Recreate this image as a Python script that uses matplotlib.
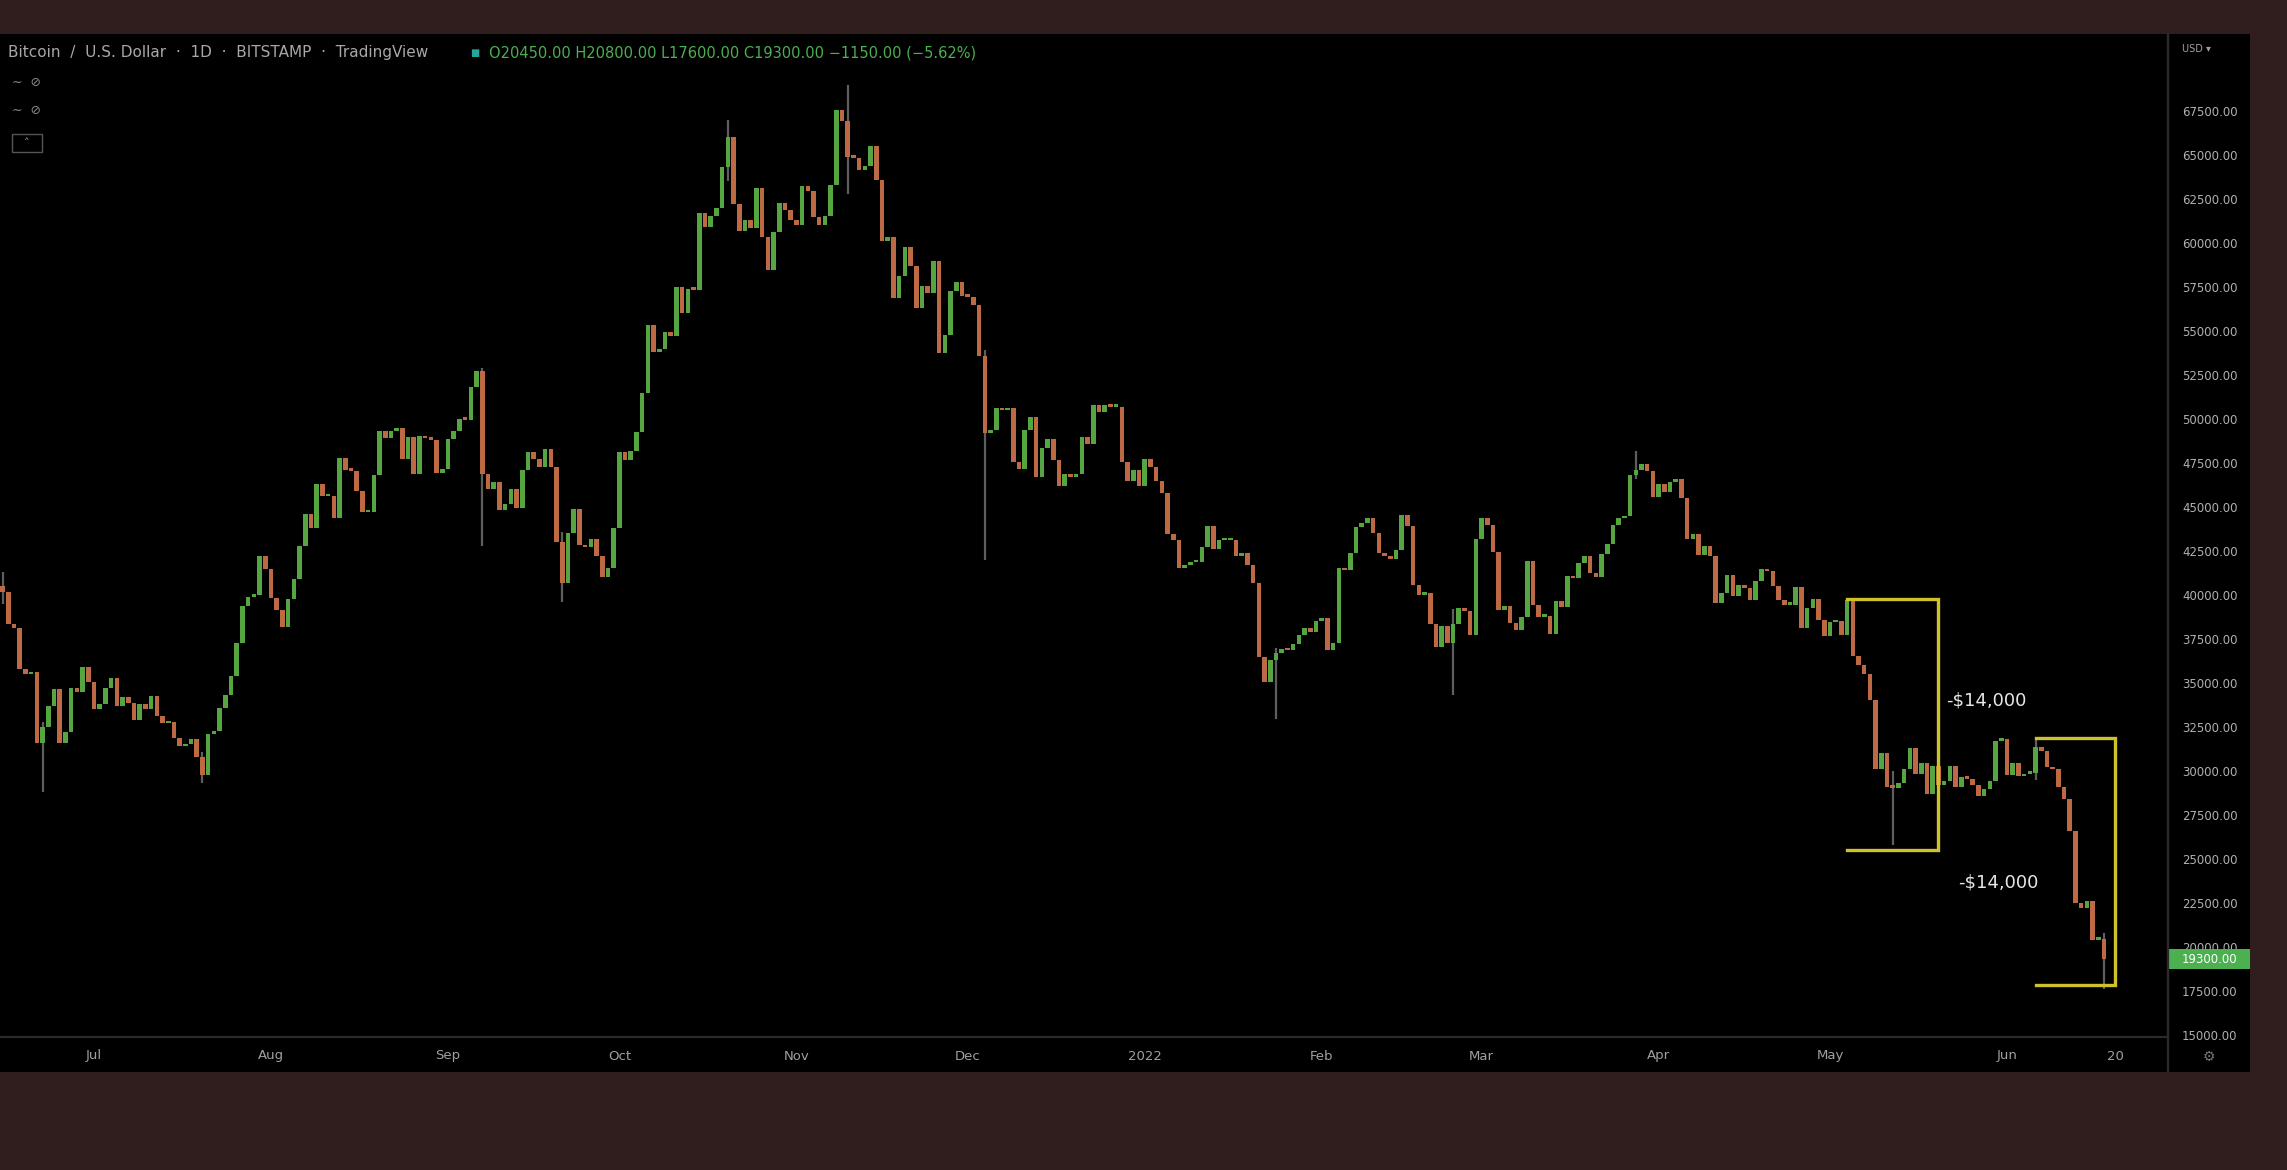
import pandas as pd
import numpy as np
import matplotlib
matplotlib.use('Agg')
import matplotlib.pyplot as plt
import matplotlib.dates as mdates
from matplotlib.patches import Rectangle
from matplotlib.lines import Line2D
import matplotlib.transforms as mtransforms

# daily closes, BTC/USD (Bitstamp)
jun21 = [40500, 40150, 38350, 38100, 35800, 35500, 35600, 31600, 32500, 33700, 34650, 31600, 32200, 34700, 34500, 35900, 35050]
jul21 = [33500, 33800, 34700, 35300, 33700, 34200, 33850, 32900, 33800, 33500,
         34250, 33100, 32700, 32800, 31850, 31400, 31550, 31800, 30800, 29800,
         32100, 32300, 33600, 34300, 35400, 37300, 39400, 39900, 40000, 42200, 41500]
aug21 = [39850, 39150, 38200, 39750, 40900, 42800, 44600, 43800, 46300, 45600,
         45600, 44400, 47800, 47100, 47050, 45900, 44700, 44700, 46800, 49300,
         48900, 49300, 49500, 47700, 48950, 46850, 49050, 48900, 48800, 46950, 47150]
sep21 = [48850, 49300, 50000, 49950, 51800, 52700, 46850, 46050, 46400, 44850,
         45150, 46050, 44950, 47100, 48150, 47750, 47300, 48300, 47250, 43000,
         40700, 43550, 44900, 42850, 42700, 43200, 42200, 41050, 41550, 43800]
oct21 = [48150, 47650, 48200, 49250, 51500, 55350, 53800, 53950, 54950, 54700,
         57500, 56000, 57400, 57350, 61700, 60900, 61550, 62000, 64300, 66000,
         62200, 60700, 61300, 60850, 63100, 60350, 58450, 60600, 62250, 61900, 61300]
nov21 = [61000, 63250, 62950, 61450, 61000, 61550, 63300, 67550, 66950, 64900,
         64850, 64150, 64400, 65500, 63600, 60100, 60350, 56900, 58100, 59750,
         58700, 56300, 57550, 57150, 58950, 53750, 54750, 57300, 57800, 57000]
dec21 = [56950, 56500, 53600, 49200, 49400, 50600, 50500, 50600, 47550, 47150,
         49350, 50100, 46700, 48350, 48850, 47650, 46200, 46850, 46700, 46900,
         49000, 48600, 50800, 50400, 50800, 50700, 50700, 47550, 46450, 47100, 46200]
jan22 = [47700, 47300, 46450, 45800, 43450, 43100, 41550, 41700, 41850, 41850,
         42750, 43900, 42600, 43100, 43100, 43100, 42200, 42400, 41700, 40700,
         36450, 35050, 36300, 36700, 36950, 36850, 37200, 37700, 38150, 37900, 38500]
feb22 = [38700, 36900, 37300, 41550, 41400, 42400, 43850, 44100, 44400, 43550,
         42400, 42200, 42050, 42550, 44550, 43900, 40550, 40000, 40100, 38350,
         37050, 38250, 37300, 38350, 39250, 39100, 37700, 43200]
mar22 = [44400, 43950, 42450, 39150, 39400, 38400, 38000, 38750, 41950, 39450,
         38750, 38800, 37800, 39650, 39300, 41100, 40950, 41800, 42200, 41250,
         41050, 42350, 42900, 43950, 44350, 44500, 46800, 47100, 47450, 47050, 45550]
apr22 = [46300, 45850, 46400, 46600, 45500, 43200, 43450, 42300, 42800, 42200,
         39550, 40100, 41150, 39950, 40550, 40400, 39700, 40800, 41500, 41350,
         40500, 39700, 39450, 39450, 40450, 38100, 39250, 39750, 38600, 37650]
may22 = [38450, 38500, 37750, 39700, 36550, 36000, 35500, 34050, 30100, 31000,
         29100, 29050, 29300, 30100, 31300, 29850, 30450, 28700, 30300, 29200,
         29450, 30300, 29100, 29650, 29550, 29200, 28600, 29000, 29450, 31700, 31800]
jun22 = [29800, 30450, 29700, 29850, 29900, 31350, 31150, 30200, 30100, 29100,
         28400, 26600, 22500, 22200, 22600, 20400, 20450, 19300]

first_open = 39000
start_date = "2021-06-14"

# long wicks that stand out in the picture
wick_dates = ["2021-06-15", "2021-06-22", "2021-07-20", "2021-09-07", "2021-09-21", "2021-10-20",
              "2021-11-10", "2021-12-04", "2022-01-24", "2022-02-24", "2022-03-28", "2022-05-12",
              "2022-06-06", "2022-06-18"]
wick_highs = [41300, 32800, 31100, 52900, 43600, 67000, 69000, 53900, 37000, 39200, 48200, 30000, 31750, 20800]
wick_lows = [39500, 28800, 29300, 42800, 39600, 63500, 62800, 42000, 32950, 34300, 46600, 25800, 29500, 17600]

# axis ticks
price_ticks = list(range(15000, 67501, 2500))
month_ticks = ["2021-07-01", "2021-08-01", "2021-09-01", "2021-10-01", "2021-11-01", "2021-12-01",
               "2022-01-01", "2022-02-01", "2022-03-01", "2022-04-01", "2022-05-01", "2022-06-01", "2022-06-20"]
month_labels = ["Jul", "Aug", "Sep", "Oct", "Nov", "Dec", "2022", "Feb", "Mar", "Apr", "May", "Jun", "20"]

# drop brackets drawn on the chart
box_starts = ["2022-05-04", "2022-06-06"]
box_ends = ["2022-05-20", "2022-06-20"]
box_tops = [39770, 31870]
box_bottoms = [25510, 17840]
box_labels = ["-$14,000", "-$14,000"]
label_dates = ["2022-05-21", "2022-05-23"]
label_prices = [34030, 23640]

closes = np.array(jun21 + jul21 + aug21 + sep21 + oct21 + nov21 + dec21 + jan22 + feb22 + mar22 + apr22 + may22 + jun22, dtype=float)
opens = np.concatenate([[first_open], closes[:-1]])
dates = pd.date_range(start_date, periods=len(closes), freq="D")
x = mdates.date2num(dates)

BG = '#301d1d'
UP = '#55a640'
DOWN = '#bd6944'
WICK = '#5e5e5e'
YELLOW = '#cfc12c'
GRAY = '#b0b0b0'

W, H = 2287, 1170
fig = plt.figure(figsize=(W / 100, H / 100), dpi=100, facecolor=BG)

# black panel behind chart + price scale + time scale
fig.patches.append(Rectangle((0, (H - 1072) / H), 2250 / W, (1072 - 34) / H,
                             transform=fig.transFigure, facecolor='black', edgecolor='none', zorder=-10))

ax = fig.add_axes([0, (H - 1037) / H, 2168 / W, (1037 - 34) / H])
ax.set_facecolor('black')

# candles
colors = np.where(closes >= opens, UP, DOWN)
body = np.maximum(np.abs(closes - opens), 150)
ax.vlines(mdates.date2num(pd.to_datetime(wick_dates)), wick_lows, wick_highs, color=WICK, lw=1.6, zorder=2)
ax.bar(x, body, bottom=np.minimum(opens, closes), width=0.8, color=colors, linewidth=0, zorder=3)

# drop brackets
for s, e, t, b in zip(box_starts, box_ends, box_tops, box_bottoms):
    xs = mdates.date2num(pd.to_datetime([s, e]))
    ax.plot([xs[0], xs[1], xs[1], xs[0]], [t, t, b, b], color=YELLOW, lw=2.4,
            solid_joinstyle='miter', zorder=4)
for txt, d, p in zip(box_labels, label_dates, label_prices):
    ax.text(mdates.date2num(pd.Timestamp(d)) + 0.4, p, txt, color='#e6e6e6', fontsize=13,
            ha='left', va='center', zorder=5)

# limits
d0 = mdates.date2num(pd.Timestamp("2021-07-01"))
ax.set_xlim(d0 - 16.46, d0 + 363.2)
ax.set_ylim(14886, 71875)

# price scale
ax.yaxis.tick_right()
ax.set_yticks(price_ticks)
ax.set_yticklabels([f"{v:.2f}" for v in price_ticks])
ax.tick_params(axis='y', length=0, pad=10, labelsize=8.5, labelcolor=GRAY)

# time scale
ax.set_xticks(mdates.date2num(pd.to_datetime(month_ticks)))
ax.set_xticklabels(month_labels)
ax.tick_params(axis='x', length=0, pad=9, labelsize=9.5, labelcolor='#a0a0a0')

for side in ['left', 'top']:
    ax.spines[side].set_visible(False)
for side in ['right', 'bottom']:
    ax.spines[side].set_color('#2a2a2a')
    ax.spines[side].set_linewidth(1.6)
fig.lines.append(Line2D([2168 / W, 2168 / W], [(H - 1072) / H, (H - 34) / H],
                        transform=fig.transFigure, color='#2a2a2a', lw=1.6))

# last price tag
last = closes[-1]
blend = mtransforms.blended_transform_factory(ax.transAxes, ax.transData)
tag_h = 20 / 44 * 2500
ax.add_patch(Rectangle((1.0, last - tag_h / 2), 82 / 2168, tag_h, transform=blend,
                       facecolor='#4caf50', edgecolor='none', clip_on=False, zorder=6))
ax.text(1.0 + 14 / 2168, last, f"{last:.2f}", transform=blend, color='white',
        fontsize=8.5, ha='left', va='center', zorder=7, clip_on=False)

# header (symbol + OHLC of the last bar)
fig.text(8 / W, 1 - 53 / H, "Bitcoin  /  U.S. Dollar  ·  1D  ·  BITSTAMP  ·  TradingView",
         color='#a8a8a8', fontsize=11, va='center', ha='left')
fig.text(470 / W, 1 - 53 / H, "■", color='#26a69a', fontsize=7, va='center', ha='left')
o, c = opens[-1], closes[-1]
hdr = f"O{o:.2f} H{wick_highs[-1]:.2f} L{wick_lows[-1]:.2f} C{c:.2f} {c - o:+.2f} ({(c - o) / o * 100:+.2f}%)"
fig.text(489 / W, 1 - 53 / H, hdr.replace('-', '−'), color='#4caf50', fontsize=10.5, va='center', ha='left')
fig.text(12 / W, 1 - 82 / H, "∼  ⊘", color='#8a8a8a', fontsize=9, va='center', ha='left')
fig.text(12 / W, 1 - 111 / H, "∼  ⊘", color='#8a8a8a', fontsize=9, va='center', ha='left')
fig.patches.append(Rectangle((12 / W, 1 - 152 / H), 30 / W, 18 / H, transform=fig.transFigure,
                             facecolor='none', edgecolor='#555555', lw=1))
fig.text(27 / W, 1 - 143 / H, "˄", color='#9a9a9a', fontsize=8, va='center', ha='center')

# price scale header and settings icon
fig.text(2182 / W, 1 - 49 / H, "USD ▾", color='#a0a0a0', fontsize=7, va='center', ha='left')
fig.text(2209 / W, 1 - 1057 / H, "⚙", color='#777777', fontsize=10, va='center', ha='center')

plt.savefig("out.png", dpi=100, facecolor=fig.get_facecolor())
